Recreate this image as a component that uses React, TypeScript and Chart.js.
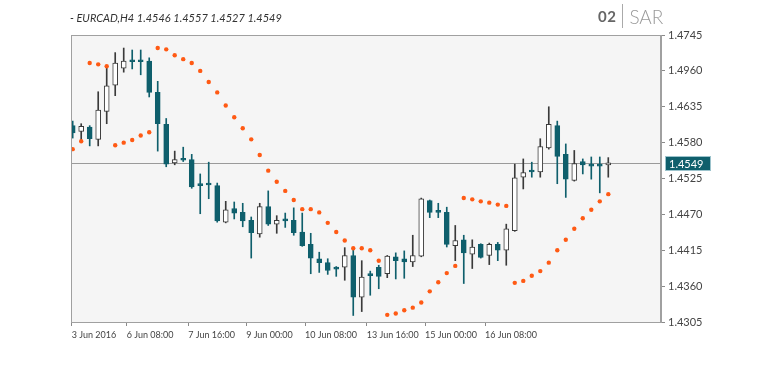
import React, { useEffect, useRef } from "react";
import { Chart, registerables } from "chart.js";

Chart.register(...registerables);

const title = "- EURCAD,H4 1.4546 1.4557 1.4527 1.4549";
const badgeNumber = "02";
const badgeName = "SAR";

const opens = [
  1.4606, 1.4597, 1.4604, 1.4585, 1.4628, 1.4668, 1.4694, 1.4705, 1.4705, 1.4705,
  1.4657, 1.4608, 1.4549, 1.4554, 1.4554, 1.4515, 1.4517, 1.4514, 1.4458, 1.4479,
  1.4473, 1.4461, 1.4440, 1.4482, 1.4455, 1.4461, 1.4461, 1.4443, 1.4424, 1.4402,
  1.4396, 1.4387, 1.4389, 1.4407, 1.4343, 1.4377, 1.4389, 1.4379, 1.4405, 1.4402,
  1.4397, 1.4406, 1.4491, 1.4474, 1.4473, 1.4422, 1.4431, 1.4409, 1.4424, 1.4407,
  1.4424, 1.4415, 1.4445, 1.4527, 1.4536, 1.4535, 1.4572, 1.4606, 1.4562, 1.4522,
  1.4551, 1.4546, 1.4546, 1.4546,
];
const highs = [
  1.4613, 1.4609, 1.4606, 1.4658, 1.4694, 1.4718, 1.4725, 1.4722, 1.4722, 1.4710,
  1.4674, 1.4617, 1.4567, 1.4573, 1.4562, 1.4532, 1.4550, 1.4518, 1.4490, 1.4489,
  1.4487, 1.4466, 1.4487, 1.4506, 1.4468, 1.4472, 1.4480, 1.4472, 1.4441, 1.4412,
  1.4402, 1.4390, 1.4419, 1.4415, 1.4399, 1.4383, 1.4392, 1.4407, 1.4411, 1.4414,
  1.4438, 1.4495, 1.4492, 1.4487, 1.4481, 1.4453, 1.4438, 1.4431, 1.4425, 1.4426,
  1.4427, 1.4455, 1.4547, 1.4555, 1.4550, 1.4586, 1.4635, 1.4613, 1.4578, 1.4568,
  1.4555, 1.4558, 1.4558, 1.4557,
];
const lows = [
  1.4587, 1.4584, 1.4575, 1.4575, 1.4609, 1.4652, 1.4688, 1.4693, 1.4684, 1.4650,
  1.4567, 1.4543, 1.4546, 1.4551, 1.4510, 1.4471, 1.4494, 1.4458, 1.4457, 1.4463,
  1.4451, 1.4403, 1.4435, 1.4453, 1.4441, 1.4450, 1.4438, 1.4421, 1.4379, 1.4381,
  1.4378, 1.4375, 1.4369, 1.4315, 1.4321, 1.4346, 1.4356, 1.4373, 1.4371, 1.4372,
  1.4390, 1.4405, 1.4465, 1.4465, 1.4420, 1.4399, 1.4364, 1.4387, 1.4403, 1.4393,
  1.4399, 1.4392, 1.4444, 1.4509, 1.4527, 1.4527, 1.4570, 1.4517, 1.4496, 1.4521,
  1.4532, 1.4524, 1.4503, 1.4527,
];
const closes = [
  1.4595, 1.4605, 1.4586, 1.4630, 1.4667, 1.4702, 1.4705, 1.4704, 1.4704, 1.4657,
  1.4609, 1.4547, 1.4554, 1.4553, 1.4512, 1.4514, 1.4515, 1.4460, 1.4477, 1.4472,
  1.4460, 1.4442, 1.4482, 1.4455, 1.4461, 1.4460, 1.4442, 1.4422, 1.4403, 1.4396,
  1.4384, 1.4386, 1.4407, 1.4343, 1.4374, 1.4376, 1.4375, 1.4406, 1.4399, 1.4397,
  1.4407, 1.4494, 1.4473, 1.4473, 1.4424, 1.4430, 1.4411, 1.4420, 1.4404, 1.4424,
  1.4415, 1.4448, 1.4526, 1.4534, 1.4535, 1.4574, 1.4608, 1.4559, 1.4524, 1.4548,
  1.4546, 1.4544, 1.4544, 1.4549,
];
const sar = [
  1.4570, 1.4582, 1.4702, 1.4700, 1.4697, 1.4576, 1.4580, 1.4584, 1.4591, 1.4596,
  1.4725, 1.4723, 1.4714, 1.4708, 1.4702, 1.4690, 1.4673, 1.4657, 1.4637, 1.4619,
  1.4602, 1.4585, 1.4561, 1.4537, 1.4520, 1.4506, 1.4492, 1.4478, 1.4478, 1.4473,
  1.4457, 1.4443, 1.4430, 1.4418, 1.4418, 1.4415, 1.4399, 1.4316, 1.4318, 1.4323,
  1.4327, 1.4335, 1.4352, 1.4366, 1.4380, 1.4391, 1.4495, 1.4493, 1.4490, 1.4488,
  1.4485, 1.4483, 1.4365, 1.4368, 1.4376, 1.4383, 1.4396, 1.4415, 1.4431, 1.4448,
  1.4464, 1.4477, 1.4490, 1.4501,
];

const xTickPositions = [-0.12, 6.35, 13.6, 20.4, 27.33, 34.6, 41.45, 48.5];
const xTickLabels = [
  "3 Jun 2016", "6 Jun 08:00", "7 Jun 16:00", "9 Jun 00:00",
  "10 Jun 08:00", "13 Jun 16:00", "15 Jun 00:00", "16 Jun 08:00",
];
const yTickValues = [1.4305, 1.436, 1.4415, 1.447, 1.4525, 1.458, 1.4635, 1.469, 1.4745];
const yTickLabels = [
  "1.4305", "1.4360", "1.4415", "1.4470", "1.4525", "1.4580", "1.4635", "1.4960", "1.4745",
];
const lastPrice = 1.4549;
const lastPriceLabel = "1.4549";

const TEAL = "#0f5f6c";
const HOLLOW_EDGE = "#3a3a3a";
const SAR_COLOR = "#ff5a14";
const FONT = "Lato, 'Open Sans', sans-serif";

export default function App() {
  const canvasRef = useRef<HTMLCanvasElement | null>(null);

  useEffect(() => {
    const canvas = canvasRef.current;
    if (!canvas) return;
    const bull = opens.map((o, i) => closes[i] >= o);

    const framePlugin = {
      id: "frame",
      beforeDraw(chart: any) {
        const { ctx, chartArea: a } = chart;
        ctx.save();
        ctx.fillStyle = "#f5f5f5";
        ctx.fillRect(a.left, a.top, a.right - a.left, a.bottom - a.top);
        ctx.restore();
      },
      beforeDatasetsDraw(chart: any) {
        const { ctx, chartArea: a } = chart;
        const y = Math.round(chart.scales.y.getPixelForValue(lastPrice)) + 0.5;
        ctx.save();
        ctx.strokeStyle = "#9a9a9a";
        ctx.lineWidth = 1;
        ctx.beginPath();
        ctx.moveTo(a.left, y);
        ctx.lineTo(a.right, y);
        ctx.stroke();
        ctx.restore();
      },
      afterDraw(chart: any) {
        const { ctx, chartArea: a } = chart;
        const ys = chart.scales.y;
        ctx.save();
        ctx.strokeStyle = "#a0a0a0";
        ctx.lineWidth = 1;
        ctx.strokeRect(a.left + 0.5, a.top + 0.5, a.right - a.left - 1, a.bottom - a.top);
        const y = Math.round(ys.getPixelForValue(lastPrice));
        const bx = ys.left + 4;
        ctx.fillStyle = TEAL;
        ctx.fillRect(bx, y - 7, 46, 15);
        ctx.strokeStyle = "#9cc3cc";
        ctx.strokeRect(bx + 0.5, y - 6.5, 45, 14);
        ctx.fillStyle = "#ffffff";
        ctx.font = "11px " + FONT;
        ctx.textBaseline = "middle";
        ctx.textAlign = "left";
        ctx.fillText(lastPriceLabel, bx + 4, y + 1);
        ctx.restore();
      },
    };

    const chart = new Chart(canvas, {
      type: "bar",
      data: {
        datasets: [
          {
            type: "bar",
            data: highs.map((h, i) => ({ x: i, y: [lows[i], h] })) as any,
            backgroundColor: bull.map((b) => (b ? HOLLOW_EDGE : TEAL)),
            barThickness: 1,
            grouped: false,
            order: 3,
          } as any,
          {
            type: "bar",
            data: opens.map((o, i) => ({ x: i, y: [o, closes[i]] })) as any,
            backgroundColor: bull.map((b) => (b ? "#ffffff" : TEAL)),
            borderColor: bull.map((b) => (b ? HOLLOW_EDGE : TEAL)),
            borderWidth: 1,
            borderSkipped: false,
            barThickness: 5,
            minBarLength: 2,
            grouped: false,
            order: 2,
          } as any,
          {
            type: "scatter",
            data: sar.map((v, i) => ({ x: i, y: v })),
            pointBackgroundColor: SAR_COLOR,
            pointBorderWidth: 0,
            pointRadius: 2.2,
            showLine: false,
            order: 1,
          } as any,
        ],
      },
      options: {
        animation: false,
        responsive: false,
        layout: { padding: { left: 71, top: 35, right: 0, bottom: 0 } },
        plugins: { legend: { display: false }, tooltip: { enabled: false } },
        scales: {
          x: {
            type: "linear",
            min: -0.2,
            max: 69.2,
            offset: false,
            afterBuildTicks: (scale: any) => {
              scale.ticks = xTickPositions.map((v) => ({ value: v }));
            },
            afterFit: (scale: any) => {
              scale.height = 43;
            },
            grid: { drawOnChartArea: false, drawTicks: true, tickLength: 4, color: "#8a8a8a", offset: false },
            border: { color: "#a0a0a0" },
            ticks: {
              autoSkip: false,
              maxRotation: 0,
              minRotation: 0,
              align: "start",
              padding: 4,
              color: "#444",
              font: { family: FONT, size: 9 },
              callback: (_v: any, i: number) => xTickLabels[i],
            },
          } as any,
          y: {
            type: "linear",
            position: "right",
            min: 1.4305,
            max: 1.4745,
            afterBuildTicks: (scale: any) => {
              scale.ticks = yTickValues.map((v) => ({ value: v }));
            },
            afterFit: (scale: any) => {
              scale.width = 105;
            },
            grid: { drawOnChartArea: false, drawTicks: true, tickLength: 4, color: "#8a8a8a" },
            border: { color: "#a0a0a0" },
            ticks: {
              padding: 3,
              color: "#444",
              font: { family: FONT, size: 11 },
              callback: (_v: any, i: number) => yTickLabels[i],
            },
          } as any,
        },
      },
      plugins: [framePlugin],
    });

    return () => chart.destroy();
  }, []);

  return (
    <div style={{ position: "fixed", left: 0, top: 0, width: 766, height: 365, background: "#fff" }}>
      <canvas ref={canvasRef} width={766} height={365} style={{ position: "absolute", left: 0, top: 0 }} />
      <div
        style={{
          position: "absolute",
          left: 70,
          top: 11,
          fontFamily: FONT,
          fontStyle: "italic",
          fontSize: 11,
          color: "#333",
          whiteSpace: "nowrap",
          lineHeight: "14px",
        }}
      >
        {title}
      </div>
      <div
        style={{
          position: "absolute",
          left: 598,
          top: 4,
          height: 24,
          display: "flex",
          alignItems: "center",
          fontFamily: FONT,
          whiteSpace: "nowrap",
        }}
      >
        <span style={{ fontSize: 15, fontWeight: 700, color: "#666", letterSpacing: 0.5 }}>{badgeNumber}</span>
        <span style={{ display: "inline-block", width: 1, height: 24, background: "#aaa", margin: "0 6px 0 6px" }} />
        <span style={{ fontSize: 19, fontWeight: 300, color: "#999" }}>{badgeName}</span>
      </div>
    </div>
  );
}
